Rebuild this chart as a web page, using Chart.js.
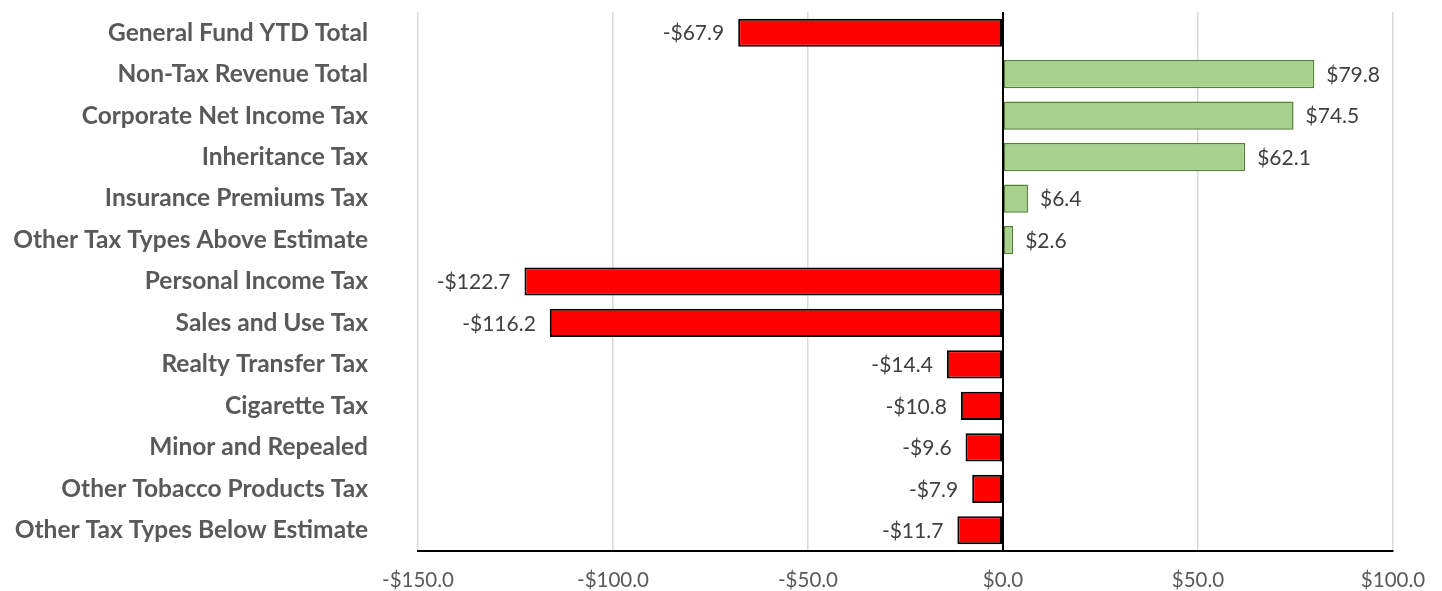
<!DOCTYPE html>
<html>
<head>
<meta charset="utf-8">
<script src="https://cdn.jsdelivr.net/npm/chart.js@4/dist/chart.umd.min.js"></script>
<style>
  html, body { margin: 0; padding: 0; background: #fff; }
  #wrap { width: 1442px; height: 591px; }
</style>
</head>
<body>
<div id="wrap"><canvas id="chart" width="1442" height="591"></canvas></div>
<script>
var categories = [
    "General Fund YTD Total",
    "Non-Tax Revenue Total",
    "Corporate Net Income Tax",
    "Inheritance Tax",
    "Insurance Premiums Tax",
    "Other Tax Types Above Estimate",
    "Personal Income Tax",
    "Sales and Use Tax",
    "Realty Transfer Tax",
    "Cigarette Tax",
    "Minor and Repealed",
    "Other Tobacco Products Tax",
    "Other Tax Types Below Estimate"
];
var values = [-67.9, 79.8, 74.5, 62.1, 6.4, 2.6, -122.7, -116.2, -14.4, -10.8, -9.6, -7.9, -11.7];
var xMin = -150;
var xMax = 100;
var xStep = 50;

function money(v) {
    var s = "$" + Math.abs(v).toFixed(1);
    return v < 0 ? "-" + s : s;
}

var fillColors = values.map(function (v) { return v < 0 ? "#FF0000" : "#A9D18E"; });
var edgeColors = values.map(function (v) { return v < 0 ? "#000000" : "#548235"; });
var edgeWidths = values.map(function (v) { return v < 0 ? 2 : 1.5; });

// draws the value next to the end of each bar
var valueLabels = {
    id: "valueLabels",
    afterDatasetsDraw: function (chart) {
        var ctx = chart.ctx;
        var meta = chart.getDatasetMeta(0);
        ctx.save();
        ctx.font = "21px Lato";
        ctx.fillStyle = "#404040";
        ctx.textBaseline = "middle";
        meta.data.forEach(function (bar, i) {
            var v = values[i];
            if (v < 0) {
                ctx.textAlign = "right";
                ctx.fillText(money(v), bar.x - 14, bar.y + 1);
            } else {
                ctx.textAlign = "left";
                ctx.fillText(money(v), bar.x + 12, bar.y + 1);
            }
        });
        ctx.restore();
    }
};

var graph = new Chart(document.getElementById("chart").getContext("2d"), {
    type: "bar",
    data: {
        labels: categories,
        datasets: [{
            data: values,
            backgroundColor: fillColors,
            borderColor: edgeColors,
            borderWidth: edgeWidths,
            borderSkipped: false,
            categoryPercentage: 1,
            barPercentage: 0.68
        }]
    },
    options: {
        indexAxis: "y",
        responsive: false,
        animation: false,
        layout: { padding: { top: 12, right: 0, left: 0, bottom: 0 } },
        plugins: {
            legend: { display: false },
            tooltip: { enabled: false }
        },
        scales: {
            x: {
                min: xMin,
                max: xMax,
                ticks: {
                    stepSize: xStep,
                    font: { family: "Lato", size: 20.5 },
                    color: "#595959",
                    padding: 17,
                    callback: function (v) { return money(v); }
                },
                grid: {
                    drawTicks: false,
                    lineWidth: function (c) { return c.tick && c.tick.value === 0 ? 2 : 1.5; },
                    color: function (c) { return c.tick && c.tick.value === 0 ? "#000000" : "#D9D9D9"; }
                },
                border: { display: true, color: "#000000", width: 2 },
                afterFit: function (axis) {
                    axis.height = 40;
                    axis.paddingLeft = 0;
                    axis.paddingRight = 49;
                }
            },
            y: {
                ticks: {
                    font: { family: "Lato", size: 24.5, weight: "bold" },
                    color: "#595959",
                    padding: 50
                },
                grid: { display: false, drawTicks: false },
                border: { display: false },
                afterFit: function (axis) {
                    axis.width = 418;
                    axis.paddingTop = 0;
                    axis.paddingBottom = 0;
                }
            }
        }
    },
    plugins: [valueLabels]
});
</script>
</body>
</html>
